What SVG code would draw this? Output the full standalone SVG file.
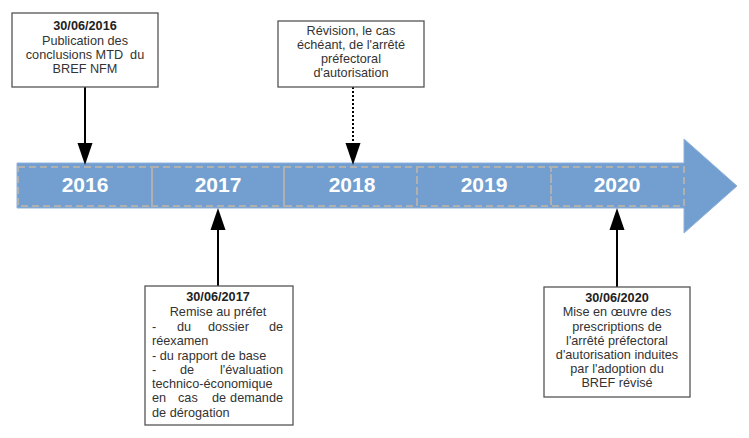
<svg xmlns="http://www.w3.org/2000/svg" width="749" height="438" viewBox="0 0 749 438">
<style>
.box{fill:#fff;stroke:#555;stroke-width:1.3}
.t{font-family:"Liberation Sans",Arial,sans-serif;font-size:12.7px;fill:#333}
.c{text-anchor:middle}
.b{font-weight:bold;fill:#222}
.yr{font-family:"Liberation Sans",Arial,sans-serif;font-size:21px;font-weight:bold;fill:#fff;text-anchor:middle}
.sec{fill:none;stroke:#b0b0b0;stroke-width:2;stroke-dasharray:7 4}
.con{stroke:#000;stroke-width:2;fill:none}
</style>
<g id="timeline">
<path d="M17,163 H684 V139 L737,186 L684,233 V208 H17 Z" fill="#729fcf" stroke="#8fb2dc" stroke-width="1"/>
<rect class="sec" x="18" y="167" width="134" height="39"/>
<rect class="sec" x="152" y="167" width="132" height="39"/>
<rect class="sec" x="284" y="167" width="133" height="39"/>
<rect class="sec" x="417" y="167" width="134" height="39"/>
<rect class="sec" x="551" y="167" width="133" height="39"/>
<text class="yr" x="85" y="192">2016</text>
<text class="yr" x="218" y="192">2017</text>
<text class="yr" x="352" y="192">2018</text>
<text class="yr" x="484" y="192">2019</text>
<text class="yr" x="617" y="192">2020</text>
</g>
<g id="connectors">
<line class="con" x1="85" y1="87" x2="85" y2="143"/>
<path d="M77.5,143 L92.5,143 L85,165 Z" fill="#000"/>
<line class="con" x1="353" y1="87" x2="353" y2="143" stroke-dasharray="2 2"/>
<path d="M345.5,143 L360.5,143 L353,165 Z" fill="#000"/>
<line class="con" x1="218" y1="286" x2="218" y2="230"/>
<path d="M210.5,230 L225.5,230 L218,208 Z" fill="#000"/>
<line class="con" x1="617" y1="287" x2="617" y2="230"/>
<path d="M609.5,230 L624.5,230 L617,208 Z" fill="#000"/>
</g>
<g id="box2016">
<rect class="box" x="12" y="13" width="146" height="74"/>
<text class="t c b" x="85" y="30">30/06/2016</text>
<text class="t c" x="85" y="45">Publication des</text>
<text class="t c" x="85" y="59" xml:space="preserve">conclusions MTD  du</text>
<text class="t c" x="85" y="73">BREF NFM</text>
</g>
<g id="box2018">
<rect class="box" x="278" y="21" width="146" height="66"/>
<text class="t c" x="351" y="35">Révision, le cas</text>
<text class="t c" x="351" y="49">échéant, de l'arrêté</text>
<text class="t c" x="351" y="63">préfectoral</text>
<text class="t c" x="351" y="77">d'autorisation</text>
</g>
<g id="box2017">
<rect class="box" x="145" y="286" width="148" height="139"/>
<text class="t c b" x="218" y="301">30/06/2017</text>
<text class="t c" x="218" y="316">Remise au préfet</text>
<text class="t" y="331"><tspan x="152">-</tspan><tspan x="177">du</tspan><tspan x="208">dossier</tspan><tspan x="283" text-anchor="end">de</tspan></text>
<text class="t" x="152" y="345">réexamen</text>
<text class="t" x="152" y="360">- du rapport de base</text>
<text class="t" y="374"><tspan x="152">-</tspan><tspan x="180">de</tspan><tspan x="283" text-anchor="end">l'évaluation</tspan></text>
<text class="t" x="152" y="388">technico-économique</text>
<text class="t" y="402"><tspan x="152">en</tspan><tspan x="178">cas</tspan><tspan x="212">de</tspan><tspan x="283" text-anchor="end">demande</tspan></text>
<text class="t" x="152" y="417">de dérogation</text>
</g>
<g id="box2020">
<rect class="box" x="544" y="287" width="146" height="110"/>
<text class="t c b" x="617" y="302">30/06/2020</text>
<text class="t c" x="617" y="316">Mise en œuvre des</text>
<text class="t c" x="617" y="331">prescriptions de</text>
<text class="t c" x="617" y="345">l'arrêté préfectoral</text>
<text class="t c" x="617" y="359">d'autorisation induites</text>
<text class="t c" x="617" y="373">par l'adoption du</text>
<text class="t c" x="617" y="387">BREF révisé</text>
</g>
</svg>
